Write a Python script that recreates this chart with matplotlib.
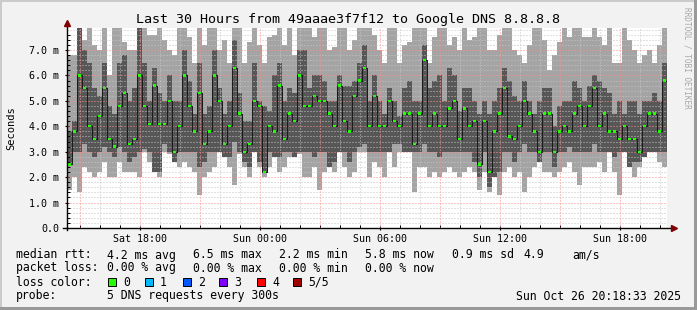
import numpy as np
import matplotlib
matplotlib.use("Agg")
import matplotlib.pyplot as plt
from matplotlib.patches import Rectangle
from matplotlib.lines import Line2D

# ---------------- data ----------------
title = "Last 30 Hours from 49aaae3f7f12 to Google DNS 8.8.8.8"
start_hour = 14 + 22 / 60.0      # hours after Sat 00:00
step_hours = 0.25                # one smoke column = 15 minutes
span_hours = 30

min_ms = [1.5, 2.0, 1.4, 2.4, 2.2, 2.0, 2.2, 2.6, 2.0, 2.0, 2.6, 2.2, 2.2, 2.2, 2.0, 3.0, 2.6, 2.2, 2.0, 3.0, 2.9, 2.6, 2.4, 2.6,
          2.4, 2.2, 1.3, 2.0, 2.2, 2.4, 3.0, 2.8, 2.4, 1.7, 2.9, 2.4, 2.0, 3.0, 2.4, 2.0, 2.4, 2.8, 2.2, 2.4, 2.8, 2.8, 2.9, 2.0,
          2.0, 2.4, 1.5, 2.2, 2.4, 2.2, 3.0, 2.4, 2.0, 2.2, 3.0, 3.0, 2.0, 2.6, 2.4, 2.0, 3.0, 2.4, 3.0, 3.0, 3.0, 1.4, 2.4, 2.4,
          2.0, 2.2, 2.0, 2.2, 2.4, 2.2, 2.0, 2.2, 2.4, 2.2, 1.5, 2.2, 1.4, 2.0, 1.3, 2.2, 2.4, 2.0, 2.2, 1.4, 2.0, 2.4, 2.6, 2.2,
          2.2, 2.0, 2.2, 2.4, 2.6, 2.2, 1.7, 2.4, 2.4, 2.4, 2.6, 2.2, 3.0, 2.2, 1.3, 3.0, 2.4, 2.0, 2.4, 2.8, 3.0, 3.0, 2.6, 2.4]
p2_ms = [2.5, 3.0, 3.0, 3.3, 3.0, 2.8, 3.0, 3.2, 3.0, 2.8, 3.2, 3.0, 2.6, 2.8, 3.0, 3.1, 3.0, 2.2, 2.2, 3.3, 3.0, 2.6, 3.0, 3.0,
         3.0, 3.0, 2.4, 2.6, 3.0, 3.0, 3.0, 2.8, 2.8, 3.4, 3.0, 2.6, 2.4, 3.0, 2.6, 2.2, 3.0, 2.8, 2.8, 3.0, 3.0, 2.8, 3.0, 3.0,
         3.0, 2.8, 3.0, 3.0, 2.4, 2.6, 3.0, 3.0, 2.6, 3.0, 3.2, 3.3, 3.0, 3.0, 3.0, 3.0, 3.0, 3.3, 3.3, 3.0, 3.0, 3.0, 3.0, 3.3,
         3.0, 3.0, 2.8, 3.0, 3.0, 3.0, 3.0, 3.0, 3.0, 2.6, 2.0, 3.0, 1.6, 2.0, 2.2, 3.0, 3.0, 2.6, 3.0, 3.3, 3.0, 3.0, 2.6, 3.0,
         3.0, 2.4, 3.0, 3.0, 3.2, 3.0, 3.0, 3.0, 3.0, 3.3, 3.0, 3.0, 3.0, 2.8, 3.0, 3.0, 2.4, 2.6, 2.6, 2.8, 3.0, 3.0, 3.0, 3.0]
median_ms = [2.5, 3.8, 6.0, 5.5, 4.0, 3.5, 4.4, 5.5, 3.5, 3.2, 4.8, 5.3, 3.3, 3.5, 6.0, 4.8, 4.1, 5.6, 4.1, 4.1, 5.0, 3.0, 4.0, 6.0,
             4.8, 3.8, 5.3, 3.3, 3.8, 6.0, 5.0, 3.3, 4.0, 6.3, 4.5, 3.0, 3.3, 5.0, 4.8, 2.2, 4.0, 3.8, 5.6, 3.5, 4.5, 4.2, 6.0, 4.8,
             4.8, 5.2, 5.0, 5.0, 4.5, 4.0, 5.6, 4.2, 3.8, 5.2, 5.8, 6.3, 4.0, 5.2, 4.0, 4.0, 5.0, 4.2, 4.0, 4.5, 4.5, 3.3, 4.5, 6.6,
             4.0, 4.5, 4.0, 4.0, 4.7, 5.0, 3.5, 4.7, 4.0, 4.2, 2.5, 4.2, 2.2, 3.8, 4.5, 5.5, 3.6, 3.5, 4.0, 5.0, 4.5, 3.8, 3.0, 4.5,
             4.5, 3.0, 3.8, 4.0, 3.8, 4.5, 4.8, 4.0, 4.8, 5.5, 4.0, 4.5, 3.8, 3.8, 3.5, 4.0, 3.5, 3.5, 3.0, 4.0, 4.5, 4.5, 3.8, 5.8]
p4_ms = [3.8, 4.2, 7.9, 7.0, 6.5, 5.5, 5.2, 6.5, 4.8, 4.5, 6.5, 6.8, 5.0, 5.5, 7.9, 6.5, 5.0, 6.3, 5.3, 5.0, 6.0, 5.0, 5.0, 7.0,
         5.8, 4.5, 6.5, 4.5, 4.8, 7.0, 5.5, 4.5, 5.0, 7.4, 5.3, 4.2, 4.2, 6.5, 5.0, 4.8, 4.6, 6.0, 6.5, 5.0, 5.5, 5.3, 7.0, 7.0,
         5.5, 6.0, 6.0, 5.8, 5.0, 5.0, 6.0, 5.6, 5.6, 5.8, 6.5, 7.2, 5.0, 6.0, 5.0, 4.5, 5.5, 5.0, 4.4, 5.5, 5.8, 5.0, 5.0, 7.2,
         5.5, 5.8, 6.0, 5.0, 6.3, 6.0, 4.6, 5.5, 5.5, 5.0, 4.5, 5.0, 4.5, 5.0, 5.5, 6.3, 5.8, 5.2, 5.0, 5.8, 5.0, 4.5, 5.0, 5.5,
         5.5, 4.0, 4.8, 5.0, 5.0, 5.8, 5.5, 5.0, 5.6, 6.0, 5.8, 5.5, 5.3, 4.5, 5.0, 4.5, 5.0, 5.0, 4.5, 5.0, 5.0, 5.3, 5.0, 6.5]
max_ms = [6.8, 6.8, 7.9, 7.4, 7.9, 7.2, 7.0, 7.9, 6.0, 7.9, 7.9, 7.3, 7.0, 7.0, 7.9, 7.9, 7.6, 7.6, 7.9, 7.4, 7.0, 6.8, 7.9, 7.9,
          7.5, 6.5, 7.9, 7.2, 7.9, 7.9, 7.0, 7.4, 6.5, 7.9, 7.9, 6.5, 7.3, 7.9, 7.2, 6.5, 7.5, 7.6, 7.9, 7.2, 7.9, 6.8, 7.9, 7.9,
          7.9, 7.5, 7.9, 7.9, 7.0, 7.1, 7.9, 7.9, 7.0, 7.4, 7.9, 7.9, 7.9, 7.6, 7.0, 6.5, 7.9, 7.9, 6.5, 7.2, 7.3, 7.9, 7.9, 7.9,
          6.5, 7.5, 7.9, 7.9, 7.2, 7.5, 7.0, 7.9, 7.4, 7.5, 7.9, 7.9, 7.0, 7.0, 7.6, 7.9, 7.9, 7.0, 6.8, 6.5, 7.2, 7.9, 7.9, 7.4,
          6.2, 6.8, 7.3, 7.9, 7.5, 7.9, 7.9, 7.5, 7.5, 7.9, 7.5, 7.2, 7.9, 6.5, 6.5, 7.9, 7.4, 7.0, 6.5, 6.8, 7.0, 6.5, 7.2, 7.9]

xtick_hours = [18, 24, 30, 36, 42]
xtick_labels = ["Sat 18:00", "Sun 00:00", "Sun 06:00", "Sun 12:00", "Sun 18:00"]
ytick_values = [0, 1, 2, 3, 4, 5, 6, 7]
ytick_labels = ["0.0", "1.0 m", "2.0 m", "3.0 m", "4.0 m", "5.0 m", "6.0 m", "7.0 m"]

legend_rows = [
    ["median rtt:", "4.2 ms avg", "6.5 ms max", "2.2 ms min", "5.8 ms now", "0.9 ms sd", "4.9", "am/s"],
    ["packet loss:", "0.00 % avg", "0.00 % max", "0.00 % min", "0.00 % now"],
]
loss_labels = ["0", "1", "2", "3", "4", "5/5"]
loss_colors = ["#26ff00", "#00b8ff", "#0059ff", "#7e00ff", "#ff0000", "#a10000"]
probe_text = "5 DNS requests every 300s"
stamp_text = "Sun Oct 26 20:18:33 2025"

# ---------------- layout ----------------
W, H = 697, 310
L, B, PW, PH = 67, 228, 600, 200
PX_PER_MS = 25.43
BG = "#f2f2f2"
MONO = "DejaVu Sans Mono"

fig = plt.figure(figsize=(W / 100, H / 100), dpi=100, facecolor=BG)
ax = fig.add_axes([L / W, 1 - B / H, PW / W, PH / H])
ax.set_facecolor("white")
ax.set_xlim(start_hour, start_hour + span_hours)
ax.set_ylim(0, PH / PX_PER_MS)

n = len(median_ms)
edges = start_hour + step_hours * np.arange(n + 1)
centers = edges[:-1] + step_hours / 2


def ext(a):
    a = np.asarray(a, float)
    return np.append(a, a[-1])


ax.fill_between(edges, ext(min_ms), ext(max_ms), step="post", color="#a4a4a4", lw=0, zorder=1)
ax.fill_between(edges, ext(p2_ms), ext(p4_ms), step="post", color="#575757", lw=0, zorder=1.1)

# grid on top of the smoke
y_top = PH / PX_PER_MS
for v in np.arange(0.2, y_top, 0.2):
    if abs(v - round(v)) < 1e-6:
        continue
    ax.axhline(v, color="#c4c4c4", lw=0.72, ls=(0, (1, 2)), zorder=1.5)
for h in range(15, 45):
    if h % 3 == 0:
        continue
    ax.axvline(h, color="#c4c4c4", lw=0.72, ls=(0, (1, 2)), zorder=1.5)
for v in range(1, 8):
    ax.axhline(v, color="#ff8a8a", lw=0.72, ls=(0, (1, 2)), zorder=1.6)
for h in range(15, 45, 3):
    ax.axvline(h, color="#ff8a8a", lw=0.72, ls=(0, (1, 2)), zorder=1.6)

# median: dark step line + green loss-colour marks
ax.step(edges, ext(median_ms), where="post", color="#1c1c1c", lw=0.75, zorder=2)
ax.bar(centers, 0.09, bottom=np.asarray(median_ms) - 0.045, width=0.14,
       color=loss_colors[0], lw=0, zorder=3)

# axes / ticks
for s in ax.spines.values():
    s.set_visible(False)
ax.set_xticks(xtick_hours)
ax.set_xticklabels(xtick_labels, fontfamily=MONO, fontsize=7.2)
ax.set_xticks(range(15, 45), minor=True)
ax.set_yticks(ytick_values)
ax.set_yticklabels(ytick_labels, fontfamily=MONO, fontsize=7.2)
ax.set_yticks(np.arange(0.2, 7.8, 0.2), minor=True)
ax.tick_params(axis="x", which="major", length=3, width=0.8, direction="inout", pad=3)
ax.tick_params(axis="x", which="minor", length=2, width=0.7, direction="in")
ax.tick_params(axis="y", which="major", length=3, width=0.8, direction="inout", pad=4)
ax.tick_params(axis="y", which="minor", length=2, width=0.7, direction="in")

ax.add_line(Line2D([-0.007, 1.008], [0, 0], transform=ax.transAxes, color="black",
                   lw=1.0, clip_on=False, zorder=4))
ax.add_line(Line2D([0, 0], [-0.01, 1.02], transform=ax.transAxes, color="black",
                   lw=1.0, clip_on=False, zorder=4))
ax.plot([0], [1.025], marker="^", ms=5, color="#7f0000", transform=ax.transAxes,
        clip_on=False, zorder=5)
ax.plot([1.011], [0], marker=">", ms=5, color="#7f0000", transform=ax.transAxes,
        clip_on=False, zorder=5)

fig.text(11 / W, 1 - 128 / H, "Seconds", rotation=90, ha="center", va="center",
         fontfamily=MONO, fontsize=7.5)
fig.text(348 / W, 1 - 19 / H, title, ha="center", va="center", fontfamily=MONO, fontsize=9.6)
fig.text(687 / W, 1 - 58 / H, "RRDTOOL / TOBI OETIKER", rotation=270, ha="center",
         va="center", fontfamily=MONO, fontsize=5.6, color="#a8a8a8")


def ftext(x, y, s, **kw):
    fig.text(x / W, 1 - y / H, s, va="center", fontfamily=MONO, fontsize=8.3, **kw)


row1_x = [16, 107, 193, 279, 365, 452, 523, 572]
row2_x = [16, 107, 193, 279, 365]
for s, x in zip(legend_rows[0], row1_x):
    ftext(x, 255, s)
for s, x in zip(legend_rows[1], row2_x):
    ftext(x, 268, s)

ftext(16, 282, "loss color:")
box_x = [108, 145, 183, 219, 257, 293]
for bx, lab, col in zip(box_x, loss_labels, loss_colors):
    fig.add_artist(Rectangle((bx / W, 1 - 286 / H), 8 / W, 8 / H, transform=fig.transFigure,
                             facecolor=col, edgecolor="black", lw=0.7))
    ftext(bx + 15, 282, lab)

ftext(16, 296, "probe:")
ftext(107, 296, probe_text)
ftext(681, 296, stamp_text, ha="right")

# 3-D frame of the canvas
fig.add_artist(Rectangle((0, 1 - 2 / H), 1, 2 / H, transform=fig.transFigure, color="#cbcbcb", lw=0))
fig.add_artist(Rectangle((0, 0), 2 / W, 1, transform=fig.transFigure, color="#cbcbcb", lw=0))
fig.add_artist(Rectangle((0, 0), 1, 3 / H, transform=fig.transFigure, color="#999999", lw=0))
fig.add_artist(Rectangle((1 - 3 / W, 0), 3 / W, 1, transform=fig.transFigure, color="#999999", lw=0))

fig.savefig("out.png", dpi=100, facecolor=BG)
